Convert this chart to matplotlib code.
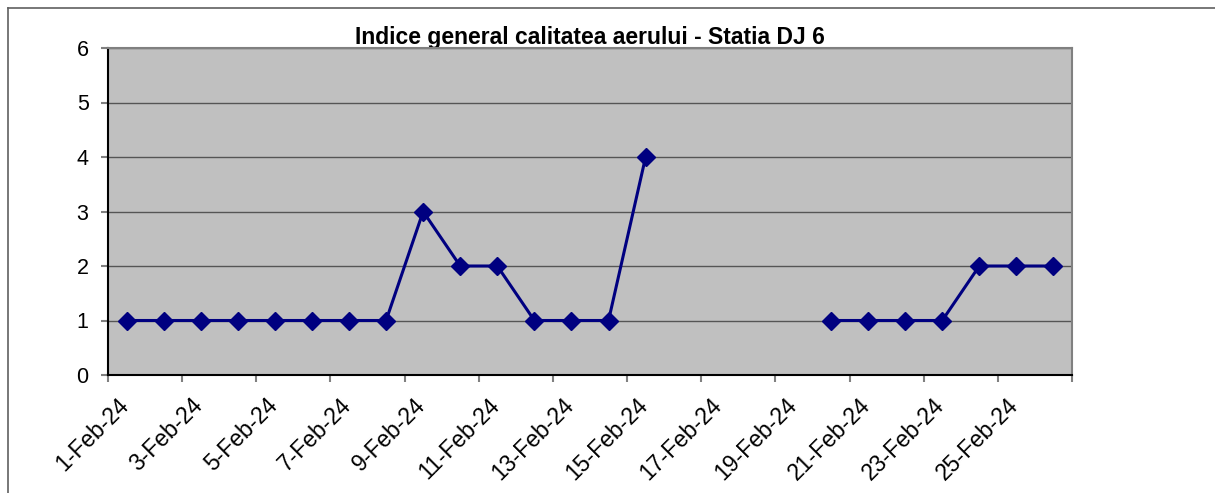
import numpy as np
import matplotlib.pyplot as plt
from matplotlib.lines import Line2D

plt.rcParams['font.family'] = ['Liberation Sans', 'DejaVu Sans']

# categories and values (NaN = no data)
days = [f'{d}-Feb-24' for d in range(1, 27)]
index_values = [1, 1, 1, 1, 1, 1, 1, 1, 3, 2, 2, 1, 1, 1, 4,
                np.nan, np.nan, np.nan, np.nan,
                1, 1, 1, 1, 2, 2, 2]

fig = plt.figure(figsize=(12.15, 4.93), dpi=100)
ax = fig.add_axes([108 / 1215, 1 - 375 / 493, (1072 - 108) / 1215, (375 - 48) / 493])
ax.set_facecolor('#C0C0C0')

x = np.arange(len(days))
ax.plot(x, index_values, color='#000080', lw=2.2, marker='D', markersize=9,
        markerfacecolor='#000080', markeredgecolor='#000080', zorder=3)

ax.set_xlim(-0.5, len(days) - 0.5)
ax.set_ylim(0, 6)
ax.set_yticks(range(0, 7))
ax.yaxis.grid(True, color='#555555', lw=1)
ax.set_axisbelow(True)

# ticks between categories every 2 days; labels (no tick) a bit left of each category
ax.set_xticks(np.arange(-0.5, len(days), 2))
ax.set_xticklabels([])
ax.set_xticks(np.arange(0, len(days), 2) - 0.25, minor=True)
ax.set_xticklabels(days[::2], minor=True, rotation=45, ha='right',
                   rotation_mode='anchor', fontsize=16.5)
ax.tick_params(axis='x', which='minor', length=0, pad=13.5)
ax.tick_params(axis='x', which='major', length=5, color='#808080', width=1.5)
ax.tick_params(axis='y', length=5, color='#808080', labelsize=15.5, width=1.5, pad=9)

ax.spines['left'].set_color('black')
ax.spines['bottom'].set_color('black')
ax.spines['left'].set_linewidth(1.5)
ax.spines['bottom'].set_linewidth(1.5)
ax.spines['top'].set_color('#808080')
ax.spines['right'].set_color('#808080')
ax.spines['top'].set_linewidth(1.5)
ax.spines['right'].set_linewidth(1.5)

# title sits just above the plot area; descenders hidden behind it
fig.text(590 / 1215, 1 - 44 / 493, 'Indice general calitatea aerului - Statia DJ 6',
         ha='center', va='baseline', fontsize=16.5, fontweight='bold', zorder=-1)

# outer chart frame (top and left)
fig.add_artist(Line2D([8 / 1215, 1], [1 - 8 / 493, 1 - 8 / 493], color='#606060', lw=1.2))
fig.add_artist(Line2D([8 / 1215, 8 / 1215], [0, 1 - 8 / 493], color='#606060', lw=1.2))

fig.savefig('out.png', dpi=100)
